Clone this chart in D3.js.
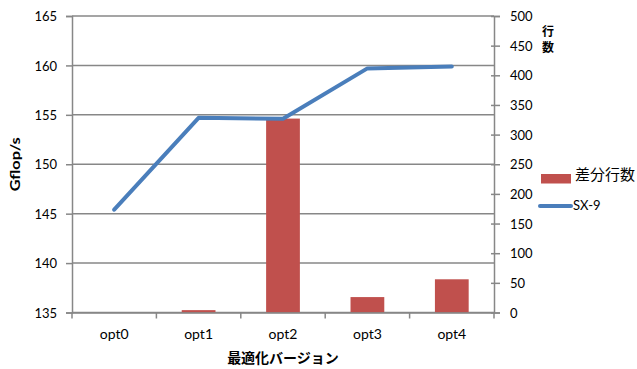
<!DOCTYPE html>
<html>
<head>
<meta charset="utf-8">
<script src="https://cdn.jsdelivr.net/npm/d3@7"></script>
<style>
  html, body { margin: 0; padding: 0; background: #fff; }
  svg { display: block; }
  text { font-family: Lato, "Open Sans", "Noto Sans CJK JP", sans-serif; fill: #000; }
</style>
</head>
<body>
<svg id="chart" width="637" height="369"></svg>
<script>
// Optimisation versions on the category axis
const versions = ["opt0", "opt1", "opt2", "opt3", "opt4"];
// SX-9 performance per version (Gflop/s, left axis)
const gflops = [145.4, 154.7, 154.6, 159.7, 159.9];
// Number of changed lines per version (right axis)
const diffLines = [0, 4, 327, 26, 56];
// Axis ticks
const leftTicks = [135, 140, 145, 150, 155, 160, 165];
const rightTicks = [0, 50, 100, 150, 200, 250, 300, 350, 400, 450, 500];

const barColor = "#C0504D";
const lineColor = "#4A7EBB";
const gridColor = "#878787";

const svg = d3.select("#chart");
const plot = { left: 72, right: 494, top: 16, bottom: 312.5 };

const x = d3.scaleBand().domain(versions).range([plot.left, plot.right]);
const yL = d3.scaleLinear().domain([135, 165]).range([plot.bottom, plot.top]);
const yR = d3.scaleLinear().domain([0, 500]).range([plot.bottom, plot.top]);

// Horizontal gridlines from the left axis
svg.append("g").selectAll("line").data(leftTicks).join("line")
  .attr("x1", plot.left).attr("x2", plot.right)
  .attr("y1", d => yL(d)).attr("y2", d => yL(d))
  .attr("stroke", gridColor).attr("stroke-width", 1.5);

// Left axis
const gL = svg.append("g").attr("transform", `translate(${plot.left},0)`)
  .call(d3.axisLeft(yL).tickValues(leftTicks).tickSize(6).tickPadding(9));
gL.select(".domain").attr("stroke", gridColor).attr("stroke-width", 1.5);
gL.selectAll(".tick line").attr("stroke", gridColor).attr("stroke-width", 1.5);
gL.selectAll(".tick text").style("font-size", "13px").attr("dy", "0.36em");

// Right axis
const gR = svg.append("g").attr("transform", `translate(${plot.right},0)`)
  .call(d3.axisRight(yR).tickValues(rightTicks).tickSize(6).tickPadding(10));
gR.select(".domain").attr("stroke", gridColor).attr("stroke-width", 1.5);
gR.selectAll(".tick line").attr("stroke", gridColor).attr("stroke-width", 1.5).attr("x1", -3);
gR.selectAll(".tick text").style("font-size", "13px").attr("dy", "0.36em");

// Bars: changed line counts
svg.append("g").selectAll("rect").data(versions).join("rect")
  .attr("x", d => x(d) + x.bandwidth() * 0.3)
  .attr("width", x.bandwidth() * 0.4)
  .attr("y", (d, i) => yR(diffLines[i]))
  .attr("height", (d, i) => yR(0) - yR(diffLines[i]))
  .attr("fill", barColor);

// Bottom category axis
const gX = svg.append("g").attr("transform", `translate(0,${plot.bottom})`)
  .call(d3.axisBottom(x).tickSize(0).tickPadding(17));
gX.select(".domain").attr("stroke", gridColor).attr("stroke-width", 1.5);
gX.selectAll(".tick text").style("font-size", "14px");
// category boundary ticks
const bounds = versions.map(v => x(v)).concat([plot.right]);
gX.append("g").selectAll("line").data(bounds).join("line")
  .attr("x1", d => d).attr("x2", d => d)
  .attr("y1", 0).attr("y2", 6)
  .attr("stroke", gridColor).attr("stroke-width", 1.5);

// SX-9 line
const line = d3.line()
  .x((d, i) => x(versions[i]) + x.bandwidth() / 2)
  .y(d => yL(d));
svg.append("path").datum(gflops)
  .attr("d", line)
  .attr("fill", "none")
  .attr("stroke", lineColor)
  .attr("stroke-width", 4)
  .attr("stroke-linecap", "round")
  .attr("stroke-linejoin", "round");

// Axis titles
svg.append("text")
  .attr("transform", `translate(20,${(plot.top + plot.bottom) / 2}) rotate(-90)`)
  .attr("text-anchor", "middle")
  .attr("textLength", 54).attr("lengthAdjust", "spacingAndGlyphs")
  .style("font-size", "14px").style("font-weight", "bold")
  .text("Gflop/s");

svg.append("text")
  .attr("x", (plot.left + plot.right) / 2).attr("y", 363)
  .attr("text-anchor", "middle")
  .style("font-size", "14px").style("font-weight", "bold")
  .style("font-family", "'Noto Sans CJK JP', sans-serif")
  .text("最適化バージョン");

// Right axis title, stacked vertically
svg.append("g").selectAll("text").data(["行", "数"]).join("text")
  .attr("x", 548).attr("y", (d, i) => 36 + i * 16)
  .attr("text-anchor", "middle")
  .style("font-size", "12px").style("font-weight", "bold")
  .style("font-family", "'Noto Sans CJK JP', sans-serif")
  .text(d => d);

// Legend
const legend = svg.append("g");
legend.append("rect")
  .attr("x", 541).attr("y", 174).attr("width", 30).attr("height", 9.5)
  .attr("fill", barColor);
legend.append("text")
  .attr("x", 575).attr("y", 180)
  .style("font-size", "15px")
  .style("font-family", "'Noto Sans CJK JP', sans-serif")
  .text("差分行数");
legend.append("line")
  .attr("x1", 540).attr("x2", 571).attr("y1", 206).attr("y2", 206)
  .attr("stroke", lineColor).attr("stroke-width", 4).attr("stroke-linecap", "round");
legend.append("text")
  .attr("x", 573).attr("y", 205.5).attr("dy", "0.36em")
  .style("font-size", "13px")
  .text("SX-9");
</script>
</body>
</html>
